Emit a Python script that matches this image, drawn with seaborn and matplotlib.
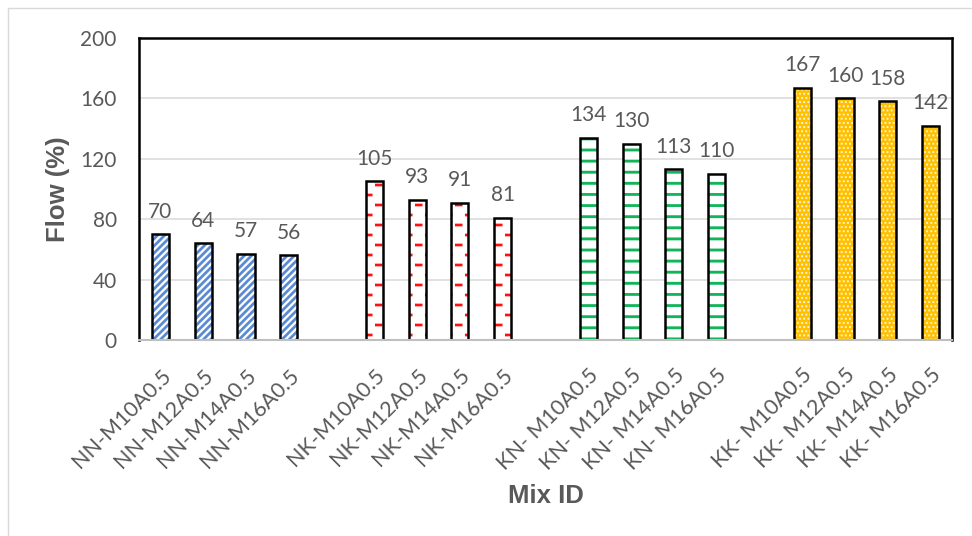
import numpy as np
import pandas as pd
import matplotlib
matplotlib.use("Agg")
import matplotlib.pyplot as plt
from matplotlib import hatch as mhatch
from matplotlib.path import Path
from matplotlib.patches import Rectangle
import seaborn as sns

# ---- data -------------------------------------------------------------
groups = ["NN", "NK", "KN", "KK"]
mix_ids = [
    "NN-M10A0.5", "NN-M12A0.5", "NN-M14A0.5", "NN-M16A0.5",
    "NK-M10A0.5", "NK-M12A0.5", "NK-M14A0.5", "NK-M16A0.5",
    "KN- M10A0.5", "KN- M12A0.5", "KN- M14A0.5", "KN- M16A0.5",
    "KK- M10A0.5", "KK- M12A0.5", "KK- M14A0.5", "KK- M16A0.5",
]
flow = [70, 64, 57, 56, 105, 93, 91, 81, 134, 130, 113, 110, 167, 160, 158, 142]
series = [g for g in groups for _ in range(4)]

# empty category slots separate the four series on the x axis
order = (mix_ids[0:4] + [" "] + mix_ids[4:8] + ["  "] +
         mix_ids[8:12] + ["   "] + mix_ids[12:16])

fill_colors = {"NN": "#FFFFFF", "NK": "#FFFFFF", "KN": "#FFFFFF", "KK": "#FFC000"}
pattern_colors = {"NN": "#5A8AD2", "NK": "#FF1010", "KN": "#12B45A", "KK": "#FFF6DA"}
patterns = {"NN": "/", "NK": "*", "KN": "-", "KK": "."}

TEXT = "#595959"


# ---- solid-shape hatch patterns (unit tile = 72 pt) ---------------------
def _closed(pts):
    return pts + [pts[0]]


def diagonal_bands(n=14, half=0.019):
    polys = []
    y0, y1 = -0.2, 1.2
    for k in range(-n - 1, n + 2):
        c = k / n
        polys.append(_closed([(y0 + c - half, y0), (y0 + c + half, y0),
                              (y1 + c + half, y1), (y1 + c - half, y1)]))
    return polys


def horizontal_bands(n=9, half=0.014):
    polys = []
    for k in range(n):
        y = (k + 0.5) / n
        polys.append(_closed([(-0.1, y - half), (1.1, y - half),
                              (1.1, y + half), (-0.1, y + half)]))
    return polys


def staggered_dashes(rows=10, cols=5, length=0.075, half=0.013):
    polys = []
    for k in range(rows):
        y = (k + 0.5) / rows
        shift = (k % 2) * 0.5 / cols
        for j in range(-1, cols + 1):
            x = (j + 0.25) / cols + shift
            polys.append(_closed([(x, y - half), (x + length, y - half),
                                  (x + length, y + half), (x, y + half)]))
    return polys


def dot_grid(n=24, half=0.009):
    polys = []
    for r in range(n):
        y = (r + 0.5) / n
        shift = (r % 2) * 0.5 / n
        for c in range(-1, n + 1):
            x = (c + 0.5) / n + shift
            polys.append(_closed([(x - half, y - half), (x + half, y - half),
                                  (x + half, y + half), (x - half, y + half)]))
    return polys


class SolidHatch(mhatch.HatchPatternBase):
    builders = {"/": diagonal_bands, "-": horizontal_bands,
                "*": staggered_dashes, ".": dot_grid}

    def __init__(self, hatch, density):
        polys = []
        for ch, build in self.builders.items():
            if ch in hatch:
                polys += build()
        verts, codes = [], []
        for p in polys:
            verts.extend(p)
            codes.extend([Path.MOVETO] + [Path.LINETO] * (len(p) - 2) + [Path.CLOSEPOLY])
        self._verts = np.array(verts, float).reshape(-1, 2)
        self._codes = np.array(codes, dtype=Path.code_type)
        self.num_vertices = len(self._codes)

    def set_vertices_and_codes(self, vertices, codes):
        vertices[:] = self._verts
        codes[:] = self._codes


mhatch._hatch_types[:] = [SolidHatch]

# ---- styling ----------------------------------------------------------
sns.set_theme(style="white")
plt.rcParams["font.family"] = ["Lato", "DejaVu Sans"]
plt.rcParams["hatch.linewidth"] = 0.05

df = pd.DataFrame({"Mix ID": mix_ids, "Flow": flow, "Series": series})

fig = plt.figure(figsize=(9.72, 5.36), dpi=100)
ax = fig.add_axes([139 / 972, (536 - 340) / 536, 813 / 972, 302 / 536])

sns.barplot(data=df, x="Mix ID", y="Flow", hue="Series", order=order,
            hue_order=groups, palette=fill_colors, width=0.40, dodge=False,
            errorbar=None, saturation=1, legend=False, ax=ax, zorder=2)

for container, g in zip(ax.containers, groups):
    for bar in container:
        bar.set_hatch(patterns[g])
        bar.set_edgecolor(pattern_colors[g])
        bar.set_linewidth(0)
        ax.add_patch(Rectangle(bar.get_xy(), bar.get_width(), bar.get_height(),
                               fill=False, edgecolor="black", linewidth=1.8,
                               zorder=3))
    ax.bar_label(container, fmt="{:.0f}", padding=9, fontsize=15, color=TEXT)

ax.set_xlim(-0.5, len(order) - 0.5)
ax.set_ylim(0, 200)
ax.set_yticks(np.arange(0, 201, 40))
ax.yaxis.grid(True, color="#D9D9D9", linewidth=1.1, zorder=0)
ax.set_axisbelow(True)

for side in ["left", "top", "right"]:
    ax.spines[side].set_color("black")
    ax.spines[side].set_linewidth(1.8)
ax.spines["bottom"].set_color("#BFBFBF")
ax.spines["bottom"].set_linewidth(1.5)
ax.spines["bottom"].set_zorder(4)

ax.tick_params(axis="y", length=0, pad=16, labelsize=15, labelcolor=TEXT)
ax.tick_params(axis="x", length=0, pad=18, labelsize=15.5, labelcolor=TEXT)
for lbl in ax.get_xticklabels():
    lbl.set_rotation(45)
    lbl.set_rotation_mode("anchor")
    lbl.set_ha("right")
    lbl.set_va("top")

label_font = dict(family=["Liberation Sans", "DejaVu Sans"], weight="bold",
                  size=18.5, color=TEXT)
ax.set_ylabel("Flow (%)", **label_font)
ax.set_xlabel("Mix ID", **label_font)
ax.yaxis.set_label_coords(-0.085, 0.5)
ax.xaxis.set_label_coords(0.5, -0.476)

# light outer frame of the chart area
fig.patches.append(Rectangle((8 / 972, -0.05), 1.0, (528 / 536) + 0.05,
                             transform=fig.transFigure, fill=False,
                             edgecolor="#D9D9D9", linewidth=1.0))

fig.savefig("out.png", dpi=100)
